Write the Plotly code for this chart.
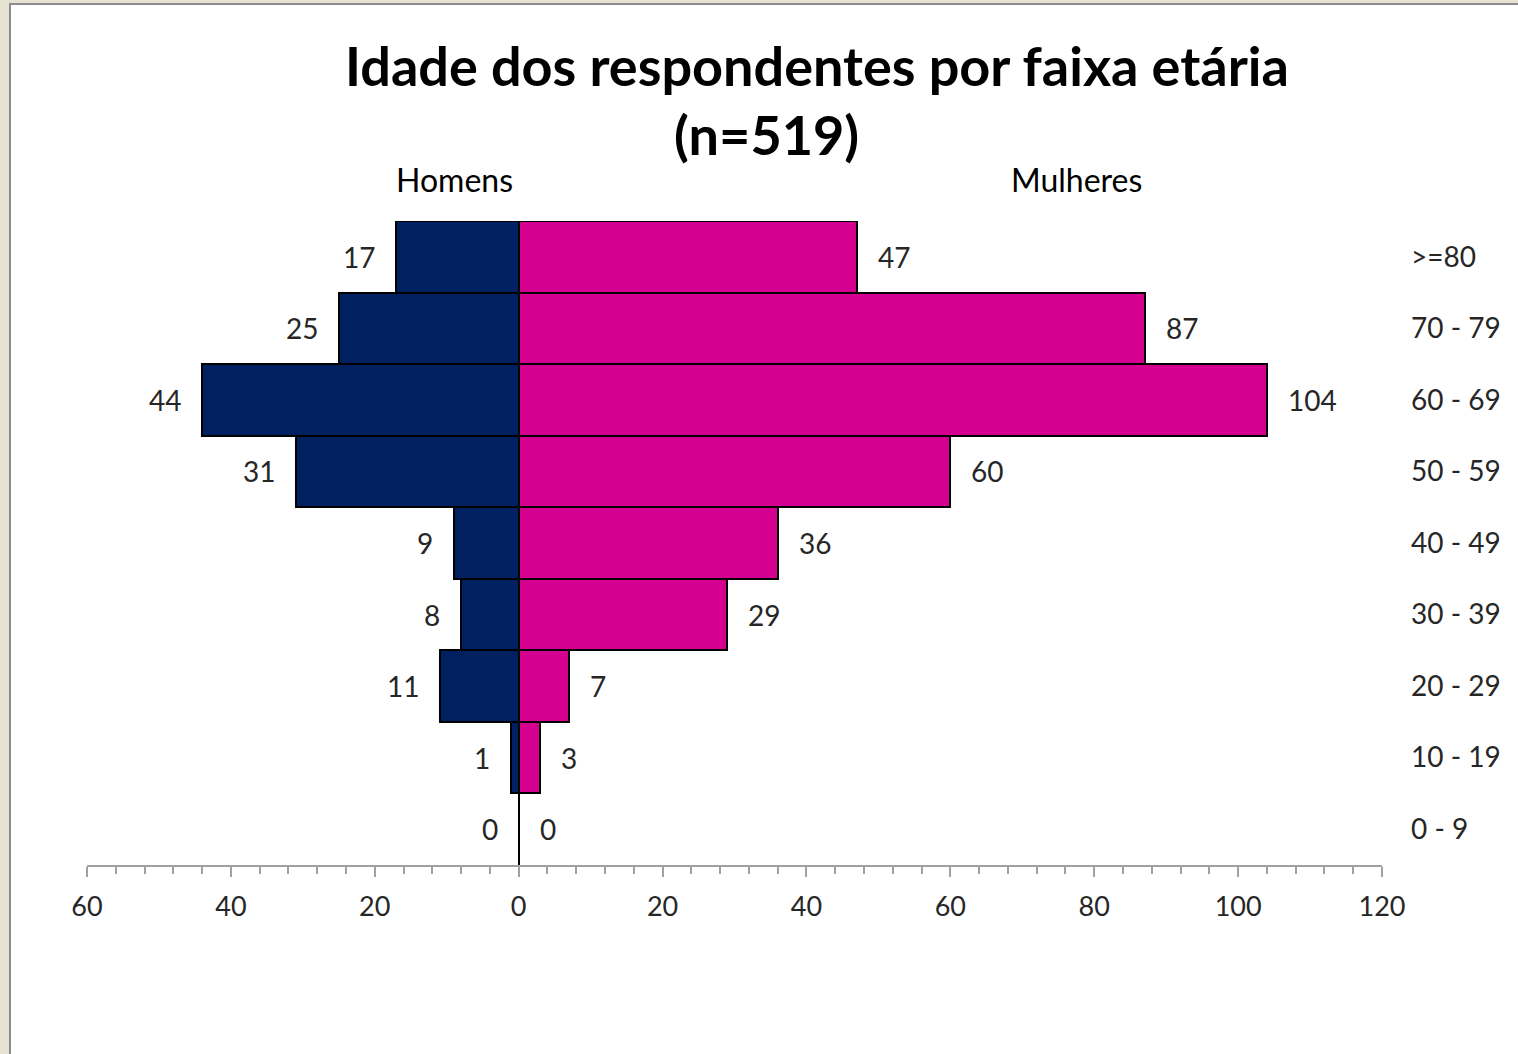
import plotly.graph_objects as go

faixas = ['0 - 9', '10 - 19', '20 - 29', '30 - 39', '40 - 49', '50 - 59', '60 - 69', '70 - 79', '>=80']
homens = [0, 1, 11, 8, 9, 31, 44, 25, 17]
mulheres = [0, 3, 7, 29, 36, 60, 104, 87, 47]

tick_vals = [-60, -40, -20, 0, 20, 40, 60, 80, 100, 120]
tick_text = ['60', '40', '20', '0', '20', '40', '60', '80', '100', '120']

FONT = 'Lato'
W, H = 1518, 1054
L, R, T, B = 87, 1382, 221, 865  # plot area in pixels

def px(x):
    return (x - L) / (R - L)

def py(y):
    return (B - y) / (B - T)

fig = go.Figure()
fig.add_trace(go.Bar(y=faixas, x=[-v for v in homens], orientation='h', name='Homens',
                     marker=dict(color='#002060', line=dict(color='black', width=2))))
fig.add_trace(go.Bar(y=faixas, x=mulheres, orientation='h', name='Mulheres',
                     marker=dict(color='#D5008F', line=dict(color='black', width=2))))

# value labels next to the bar ends
ann = []
for f, h, m in zip(faixas, homens, mulheres):
    ann.append(dict(x=-h, y=f, text=str(h), showarrow=False, xanchor='right', xshift=-19,
                    font=dict(size=28, color='#262626', family=FONT)))
    ann.append(dict(x=m, y=f, text=str(m), showarrow=False, xanchor='left', xshift=19,
                    font=dict(size=28, color='#262626', family=FONT)))

ann.append(dict(x=px(455), y=py(180), xref='paper', yref='paper', text='Homens', showarrow=False,
                xanchor='center', yanchor='middle', font=dict(size=32, color='black', family=FONT)))
ann.append(dict(x=px(1076), y=py(180), xref='paper', yref='paper', text='Mulheres', showarrow=False,
                xanchor='center', yanchor='middle', font=dict(size=32, color='black', family=FONT)))
# second line of the title sits a bit left of centre, as in the original
ann.append(dict(x=px(766), y=py(135), xref='paper', yref='paper', text='<b>(n=519)</b>', showarrow=False,
                xanchor='center', yanchor='middle', font=dict(size=54, color='black', family=FONT)))

fig.update_layout(
    width=W, height=H,
    margin=dict(l=L, r=W - R, t=T, b=H - B),
    paper_bgcolor='#E5E2CF', plot_bgcolor='white',
    barmode='relative', bargap=0, showlegend=False,
    title=dict(text='<b>Idade dos respondentes por faixa etária</b>',
               x=817 / W, xanchor='center', y=1 - 67 / H, yanchor='middle',
               font=dict(size=54, color='black', family=FONT)),
    annotations=ann,
    shapes=[dict(type='rect', xref='paper', yref='paper', layer='below',
                 x0=px(10), x1=px(1530), y0=py(1070), y1=py(4),
                 fillcolor='white', line=dict(color='#8C8C8C', width=2))],
    font=dict(family=FONT, size=27, color='#262626'),
)
fig.update_xaxes(range=[-60, 120], tickvals=tick_vals, ticktext=tick_text,
                 showgrid=False, showline=True, linecolor='#A0A0A0', linewidth=2,
                 ticks='outside', ticklen=10, tickcolor='#A0A0A0', tickwidth=2,
                 minor=dict(dtick=4, ticks='outside', ticklen=7, tickcolor='#A0A0A0', tickwidth=2),
                 zeroline=True, zerolinecolor='black', zerolinewidth=2,
                 ticklabelstandoff=7, tickfont=dict(size=27, color='#262626'))
fig.update_yaxes(side='right', showgrid=False, showline=False, ticks='',
                 categoryorder='array', categoryarray=faixas,
                 ticklabelstandoff=28, tickfont=dict(size=28, color='#262626'))

fig.write_html('out.html', config={'displayModeBar': False},
               post_script="document.body.style.margin='0';")
